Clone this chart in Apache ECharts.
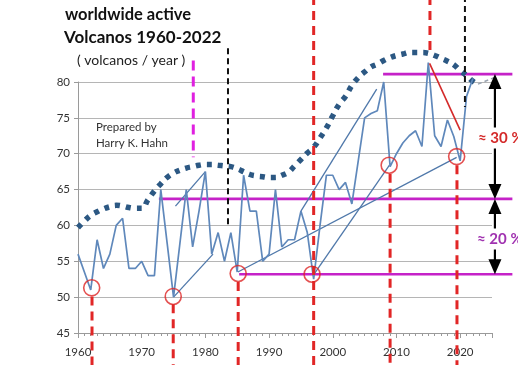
<!DOCTYPE html>
<html><head><meta charset="utf-8">
<script src="https://cdn.jsdelivr.net/npm/echarts@6/dist/echarts.min.js"></script>
<style>html,body{margin:0;padding:0;background:#fff}#c{width:518px;height:365px}</style>
</head><body><div id="c"></div>
<script>
// ---- data ----
const years = [1960,1961,1962,1963,1964,1965,1966,1967,1968,1969,1970,1971,1972,1973,1974,1975,1976,1977,1978,1979,
  1980,1981,1982,1983,1984,1985,1986,1987,1988,1989,1990,1991,1992,1993,1994,1995,1996,1997,1998,1999,
  2000,2001,2002,2003,2004,2005,2006,2007,2008,2009,2010,2011,2012,2013,2014,2015,2016,2017,2018,2019,
  2020,2021,2022];
const volcanoes = [56,53.5,51,58,54,56,60,61,54,54,55,53,53,65,57.5,50,57.5,65,57,62,
  67.5,56,59,55,59,53.5,67,62,62,55,56,65,57,58,58,62,59,52.5,60,67,
  67,65,66,63,69,75,75.6,76,80,68.2,70,71.5,72.5,73.2,71,82.7,72.5,71,74.7,72.4,
  69,78,80.5];
const trendYears = [1960,1961,1962,1963,1964,1965,1966,1967,1968,1969,1970,1971,1972,1973,1974,1975,1976,1977,1978,1979,
  1980,1981,1982,1983,1984,1985,1986,1987,1988,1989,1990,1991,1992,1993,1994,1995,1996,1997,1998,1999,
  2000,2001,2002,2003,2004,2005,2006,2007,2008,2009,2010,2011,2012,2013,2014,2015,2016,2017,2018,2019,
  2020,2021,2022,2023];
const trendValues = [59.7,60.6,61.4,61.9,62.3,62.6,62.8,62.7,62.5,62.4,62.4,63.6,64.8,65.8,66.7,67.3,67.7,68.0,68.2,68.4,
  68.5,68.5,68.4,68.3,68.2,67.9,67.5,67.1,66.9,66.8,66.7,66.7,67.0,67.4,68.3,69.2,70.1,70.9,72.2,73.6,
  75.3,76.9,78.0,79.5,80.6,81.4,82.1,82.5,83.0,83.4,83.7,83.9,84.1,84.1,84.1,84.0,83.7,83.3,82.9,82.4,
  81.6,80.9,80.1,79.6];
// straight guide lines: [yearFrom, valueFrom, yearTo, valueTo]
const guideLines = [[1975,50,1981.2,56],[1975.3,62.7,1980,67.5],[1985.1,53.5,2019.45,69.5],[1996.9,53,2008.9,68.4],[1995,62,2006.9,79]];
const redSlope = [2015.2,82.6,2020,73.3];
const extension = [2022.8,79.7,2025.3,80.6];
// minima circles
const circleYears = [1962.15,1974.95,1985.15,1996.75,2008.85,2019.45];
const circleValues = [51.3,50.1,53.3,53.2,68.4,69.6];
// red dashed markers: year, top value, bottom value
const redDashYears = [1962.2,1974.95,1985.15,1997.0,2009.0,2019.5,2015.26];
const redDashTop = [50.1,49.0,52.1,92,67.2,68.4,92];
const redDashBottom = [40,40,40,40,40,40,84.2];
// black dashed markers
const blackDashYears = [1983.55,2020.75];
const blackDashTop = [84.7,92];
const blackDashBottom = [60,76.5];
// magenta dashed marker
const magentaDash = [1978.1,83,69.5];
// magenta level lines
const levelValues = [63.7,53.2,81.1];
const levelStarts = [1972.7,1985.3,2007.9];
const levelEnd = 2028.2;
// range arrows: year, from, to
const arrowYear = 2025.46;
const arrowRanges = [[81.1,63.7],[63.7,53.2]];
const xTicks = {min:1960, max:2025, step:10};
const yTicks = {min:45, max:80, step:5};

// ---- chart ----
const chart = echarts.init(document.getElementById('c'), null, {renderer:'canvas'});
const base = {type:'line', showSymbol:false, clip:false, silent:true, animation:false};
const seg = (pts, color, width, type, z) => Object.assign({}, base, {
  data: pts, lineStyle:{color, width, type, cap:'butt'}, z: z
});
const series = [];
// magenta level lines (custom, drawn through the axes' coord)
series.push({type:'custom', silent:true, animation:false, clip:false, z:2,
  data: levelValues.map((v,i)=>[levelStarts[i], levelEnd, v]),
  encode:{x:[0,1], y:2},
  renderItem:(params, api) => {
    const a = api.coord([api.value(0), api.value(2)]);
    const b = api.coord([api.value(1), api.value(2)]);
    return {type:'line', shape:{x1:a[0], y1:a[1], x2:b[0], y2:b[1]}, style:{stroke:'#c522c8', lineWidth:2.6}};
  }});
// dotted trend
series.push(Object.assign({}, base, {
  data: trendYears.map((y,i)=>[y,trendValues[i]]), smooth:true,
  lineStyle:{color:'#2c5883', width:5.5, type:[5,6], cap:'butt'}, z:3
}));
// guide lines
guideLines.forEach(g => series.push(seg([[g[0],g[1]],[g[2],g[3]]], '#4f78aa', 1.3, 'solid', 4)));
// faint extension
series.push({type:'custom', silent:true, animation:false, clip:false, z:4,
  data:[extension], encode:{x:[0,2], y:[1,3]},
  renderItem:(params, api) => {
    const a = api.coord([api.value(0), api.value(1)]);
    const b = api.coord([api.value(2), api.value(3)]);
    return {type:'line', shape:{x1:a[0], y1:a[1], x2:b[0], y2:b[1]}, style:{stroke:'#9aa4b0', lineWidth:1.5, lineDash:[4,3]}};
  }});
// main series
series.push(Object.assign({}, base, {
  data: years.map((y,i)=>[y,volcanoes[i]]),
  lineStyle:{color:'#5f88bb', width:1.7}, z:5
}));
// red slope
series.push(seg([[redSlope[0],redSlope[1]],[redSlope[2],redSlope[3]]], '#d42a2a', 1.6, 'solid', 6));
// dashed verticals
redDashYears.forEach((y,i) => series.push(seg([[y,redDashTop[i]],[y,redDashBottom[i]]], '#e12626', 3, [9,6], 7)));
blackDashYears.forEach((y,i) => series.push(seg([[y,blackDashTop[i]],[y,blackDashBottom[i]]], '#111', 2, [6,4], 7)));
series.push(seg([[magentaDash[0],magentaDash[1]],[magentaDash[0],magentaDash[2]]], '#e020e0', 3, [10,6], 7));
// circles
series.push({type:'scatter', silent:true, animation:false, z:8, symbol:'circle', symbolSize:16,
  data: circleYears.map((y,i)=>[y,circleValues[i]]),
  itemStyle:{color:'rgba(0,0,0,0)', borderColor:'#dd2525', borderWidth:1.6}});
// range arrows
series.push({type:'custom', silent:true, animation:false, clip:false, z:9,
  data: arrowRanges.map(r=>[arrowYear, r[0], r[1]]),
  encode:{x:0, y:[1,2]},
  renderItem:(params, api) => {
    const p1 = api.coord([api.value(0), api.value(1)]);
    const p2 = api.coord([api.value(0), api.value(2)]);
    const w = 6.5, h = 15;
    return {type:'group', children:[
      {type:'line', shape:{x1:p1[0], y1:p1[1]+h-1, x2:p2[0], y2:p2[1]-h+1}, style:{stroke:'#000', lineWidth:2.2}},
      {type:'polygon', shape:{points:[[p1[0],p1[1]],[p1[0]-w,p1[1]+h],[p1[0]+w,p1[1]+h]]}, style:{fill:'#000'}},
      {type:'polygon', shape:{points:[[p2[0],p2[1]],[p2[0]-w,p2[1]-h],[p2[0]+w,p2[1]-h]]}, style:{fill:'#000'}}
    ]};
  }});

const font = 'Lato, "Open Sans", sans-serif';
chart.setOption({
  animation:false,
  backgroundColor:'#fff',
  grid:{left:78, right:26, top:82, bottom:32, containLabel:false},
  xAxis:{type:'value', min:xTicks.min, max:xTicks.max, interval:xTicks.step,
    axisLine:{show:true, lineStyle:{color:'#9a9a9a', width:1}},
    axisTick:{show:true, length:5, lineStyle:{color:'#9a9a9a'}},
    minorTick:{show:true, splitNumber:10, length:3, lineStyle:{color:'#9a9a9a'}},
    splitLine:{show:false},
    axisLabel:{showMaxLabel:false, margin:13, color:'#333', fontSize:11.5, fontFamily:font, formatter:v=>String(v)}},
  yAxis:{type:'value', min:yTicks.min, max:yTicks.max, interval:yTicks.step,
    axisLine:{show:true, lineStyle:{color:'#9a9a9a', width:1}},
    axisTick:{show:true, length:4, lineStyle:{color:'#9a9a9a'}},
    splitLine:{show:true, lineStyle:{color:'#b5b5b5', width:1}},
    axisLabel:{margin:8, color:'#333', fontSize:11.5, fontFamily:font}},
  series: series,
  graphic:[
    {type:'text', x:65, y:15, z:100, style:{text:'worldwide active', font:'bold 16.5px '+font, fill:'#111', verticalAlign:'middle'}},
    {type:'text', x:64, y:38, z:100, style:{text:'Volcanos 1960-2022', font:'bold 17px '+font, fill:'#111', verticalAlign:'middle'}},
    {type:'text', x:77, y:60, z:100, style:{text:'( volcanos / year )', font:'14px '+font, fill:'#222', verticalAlign:'middle'}},
    {type:'text', x:96, y:127, z:100, style:{text:'Prepared by', font:'11.5px '+font, fill:'#333', verticalAlign:'middle'}},
    {type:'text', x:96, y:143, z:100, style:{text:'Harry K. Hahn', font:'11.5px '+font, fill:'#333', verticalAlign:'middle'}},
    {type:'text', x:477, y:138, z:100, style:{text:'≈ 30 %', font:'bold 15px '+font, fill:'#d42a2a', verticalAlign:'middle', backgroundColor:'#fff', padding:[3,1]}},
    {type:'text', x:476, y:239, z:100, style:{text:'≈ 20 %', font:'bold 15px '+font, fill:'#a032b0', verticalAlign:'middle', backgroundColor:'#fff', padding:[3,1]}}
  ]
});
</script></body></html>
